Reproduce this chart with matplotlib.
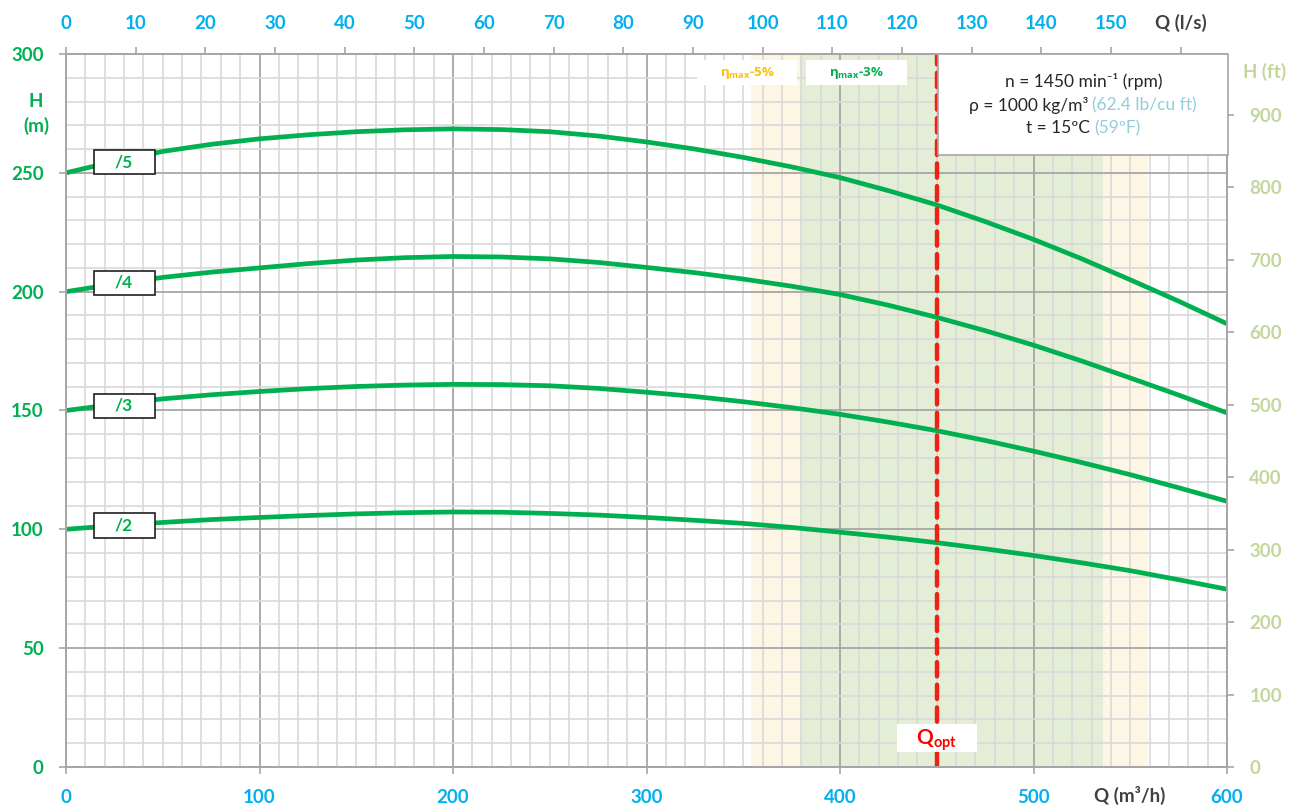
import matplotlib
matplotlib.use('Agg')
import matplotlib.pyplot as plt
import numpy as np
from matplotlib.patches import Rectangle

plt.rcParams['font.family'] = ['Lato', 'DejaVu Sans']

# flow points (m3/h) and head of each stage count (m)
q = [0, 25, 50, 75, 100, 125, 150, 175, 200, 225, 250, 275, 300,
     325, 350, 375, 400, 425, 450, 475, 500, 525, 550, 575, 600]
h_2 = [100, 101.6, 102.9, 104.1, 105.0, 105.8, 106.5, 107.0, 107.3, 107.2, 106.7, 106.0, 105.0,
       103.8, 102.5, 100.8, 98.8, 96.7, 94.4, 91.8, 89.0, 85.9, 82.6, 78.8, 74.8]
h_3 = [150, 152.6, 154.9, 156.6, 158.0, 159.2, 160.1, 160.7, 161.0, 160.9, 160.4, 159.3, 157.7,
       155.9, 153.7, 151.2, 148.4, 145.1, 141.5, 137.4, 132.9, 128.1, 123.0, 117.5, 111.8]
h_4 = [200, 203.2, 206.0, 208.2, 210.0, 211.8, 213.3, 214.3, 214.8, 214.6, 213.8, 212.3, 210.2,
       208.0, 205.3, 202.3, 198.8, 194.3, 189.2, 183.6, 177.5, 170.8, 163.7, 156.5, 149.0]
h_5 = [250, 254.8, 259.0, 262.0, 264.3, 266.0, 267.3, 268.1, 268.5, 268.2, 267.3, 265.5, 263.0,
       260.0, 256.5, 252.5, 248.0, 242.5, 236.5, 229.5, 222.0, 213.8, 205.0, 196.0, 186.5]
curves = [h_2, h_3, h_4, h_5]
curve_names = ['/2', '/3', '/4', '/5']
label_h = [101.6, 151.9, 203.7, 254.4]

q_opt = 450
band_5 = (354, 559)   # eta_max - 5%
band_3 = (380, 536)   # eta_max - 3%

x_ticks = [0, 100, 200, 300, 400, 500, 600]
y_ticks = [0, 50, 100, 150, 200, 250, 300]
ls_ticks = list(range(0, 161, 10))
ls_labels = [str(v) for v in range(0, 151, 10)] + ['Q (l/s)']
ft_ticks = list(range(0, 901, 100))

GREEN = '#00B050'
BLUE = '#00B0F0'
OLIVE = '#C3D69B'
DARK = '#404040'
GRID_MAJ = '#A6A6A6'
GRID_MIN = '#D9D9D9'

W, H = 1294, 807
def fx(px):
    return px / W
def fy(py):
    return 1 - py / H

fig = plt.figure(figsize=(W / 100, H / 100), dpi=100)
ax = fig.add_axes([fx(66), fy(767), (1227 - 66) / W, (767 - 54) / H])
ax.set_xlim(0, 600)
ax.set_ylim(0, 300)

ax.axvspan(*band_5, color='#FEF6E4', lw=0, zorder=0.1)
ax.axvspan(*band_3, color='#E4EED6', lw=0, zorder=0.2)

ax.set_axisbelow(True)
ax.set_xticks(x_ticks)
ax.set_yticks(y_ticks)
ax.set_xticks(np.arange(0, 601, 10), minor=True)
ax.set_yticks(np.arange(0, 301, 10), minor=True)
ax.grid(which='minor', color=GRID_MIN, lw=1.2)
ax.grid(which='major', color=GRID_MAJ, lw=1.3)
ax.tick_params(which='minor', length=0)
ax.tick_params(which='major', length=5, width=1.2, color=GRID_MAJ, pad=11, labelsize=13.5)
ax.tick_params(axis='x', labelcolor=BLUE)
ax.tick_params(axis='y', labelcolor=GREEN)
for lab in ax.get_xticklabels() + ax.get_yticklabels():
    lab.set_fontweight('bold')
for sp in ax.spines.values():
    sp.set_color(GRID_MAJ)
    sp.set_linewidth(1.3)

for h in curves:
    ax.plot(q, h, color=GREEN, lw=3.4, zorder=3, solid_capstyle='butt', solid_joinstyle='round')

ax.axvline(q_opt, color='#EE2211', lw=3.2, ls=(0, (3.2, 1.9)), dash_capstyle='round', zorder=4)

for name, yl in zip(curve_names, label_h):
    ax.add_patch(Rectangle((14.5, yl - 5.1), 31.5, 10.2, fc='white', ec='#202020', lw=1.2, zorder=6))
    ax.text(30, yl, name, color=GREEN, fontsize=12.5, fontweight='bold', ha='center', va='center', zorder=7)

# top axis in l/s
ax_t = ax.twiny()
ax_t.set_xlim(0, 600 / 3.6)
ax_t.set_xticks(ls_ticks)
ax_t.set_xticklabels(ls_labels)
ax_t.tick_params(length=5, width=1.2, color=GRID_MAJ, pad=11, labelsize=13.5, labelcolor=BLUE)
for lab in ax_t.get_xticklabels():
    lab.set_fontweight('bold')
ax_t.get_xticklabels()[-1].set_color(DARK)

# right axis in ft
ax_r = ax.twinx()
ax_r.set_ylim(0, 300 * 3.28084)
ax_r.set_yticks(ft_ticks)
ax_r.tick_params(length=5, width=1.2, color=GRID_MAJ, pad=11, labelsize=13.5, labelcolor=OLIVE)
for lab in ax_r.get_yticklabels():
    lab.set_fontweight('bold')
for a in (ax_t, ax_r):
    for sp in a.spines.values():
        sp.set_color(GRID_MAJ)
        sp.set_linewidth(1.3)

# axis titles
fig.text(fx(36), fy(114), 'H\n(m)', color=GREEN, fontsize=13.5, fontweight='bold',
         ha='center', va='center', linespacing=1.5)
fig.text(fx(1265), fy(72), 'H (ft)', color=OLIVE, fontsize=13.5, fontweight='bold',
         ha='center', va='center')
fig.text(fx(1130), fy(795), 'Q (m³/h)', color=DARK, fontsize=13.5, fontweight='bold',
         ha='center', va='center')

# info box
fig.add_artist(Rectangle((fx(938), fy(155)), (1228 - 938) / W, (155 - 54) / H,
                         transform=fig.transFigure, fc='white', ec=GRID_MAJ, lw=1.2, zorder=5))
fig.text(fx(1084), fy(82), 'n = 1450 min⁻¹ (rpm)', color='#262626', fontsize=12.5,
         ha='center', va='center', zorder=6)
fig.text(fx(1088), fy(105), 'ρ = 1000 kg/m³', color='#262626', fontsize=12.5,
         ha='right', va='center', zorder=6)
fig.text(fx(1092), fy(105), '(62.4 lb/cu ft)', color='#92CDDC', fontsize=12.5,
         ha='left', va='center', zorder=6)
fig.text(fx(1090), fy(128), 't = 15ºC', color='#262626', fontsize=12.5,
         ha='right', va='center', zorder=6)
fig.text(fx(1094), fy(128), '(59ºF)', color='#92CDDC', fontsize=12.5,
         ha='left', va='center', zorder=6)

# efficiency band labels
fig.add_artist(Rectangle((fx(697), fy(85)), 100 / W, 25 / H, transform=fig.transFigure,
                         fc='white', ec='none', zorder=5))
fig.add_artist(Rectangle((fx(806), fy(85)), 101 / W, 25 / H, transform=fig.transFigure,
                         fc='white', ec='none', zorder=5))
fig.text(fx(747), fy(73), r'η$_{\mathregular{max}}$-5%', family='Open Sans', color='#FFC000',
         fontsize=9.5, fontweight='bold', ha='center', va='center', zorder=6)
fig.text(fx(856), fy(73), r'η$_{\mathregular{max}}$-3%', family='Open Sans', color=GREEN,
         fontsize=9.5, fontweight='bold', ha='center', va='center', zorder=6)

# Q opt label
fig.add_artist(Rectangle((fx(897), fy(752)), 80 / W, 28 / H, transform=fig.transFigure,
                         fc='white', ec='none', zorder=5))
fig.text(fx(937), fy(740), r'Q$_{\mathregular{opt}}$', color='#FF0000', fontsize=15,
         fontweight='bold', ha='center', va='center', zorder=6)

fig.savefig('out.png', dpi=100)
